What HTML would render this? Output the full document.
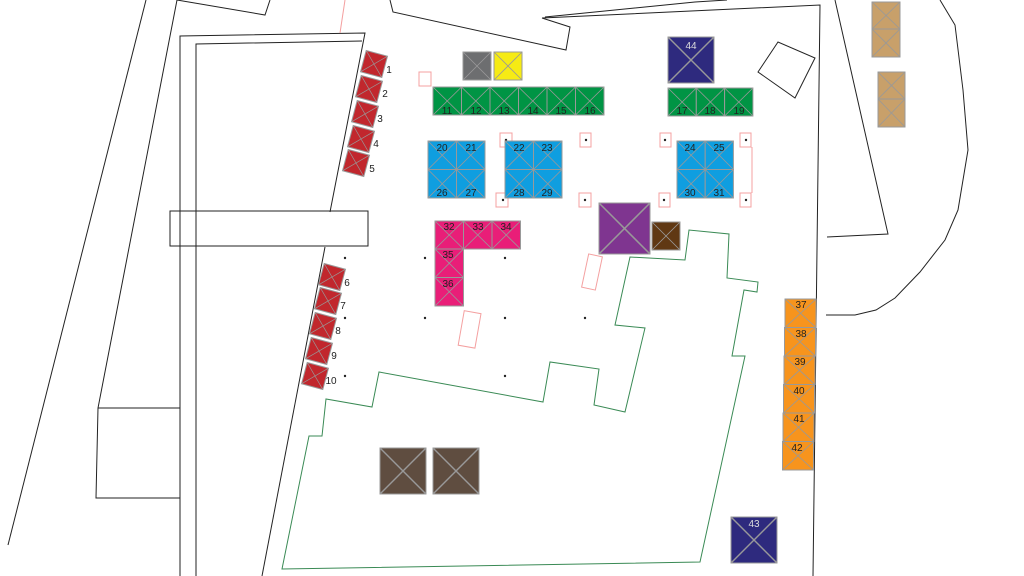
<!DOCTYPE html>
<html><head><style>body{margin:0;background:#fff}svg{display:block}text{font-family:"Liberation Sans",sans-serif;font-size:10px;fill:#222;text-anchor:middle}</style></head><body>
<svg width="1024" height="576" viewBox="0 0 1024 576" xmlns="http://www.w3.org/2000/svg">
<defs>
<g id="x"><line x1="0" y1="0" x2="1" y2="1" stroke="#999" stroke-width="0.03"/><line x1="1" y1="0" x2="0" y2="1" stroke="#999" stroke-width="0.03"/></g>
</defs>
<g fill="none" stroke="#222" stroke-width="1">
<line x1="146" y1="0" x2="8" y2="545"/>
<polyline points="177,0 98,408 96,498 180,498"/>
<line x1="98" y1="408" x2="180" y2="408"/>
<polyline points="180,576 180,36 365,33 330,212"/>
<polyline points="196,576 196,44 362,41"/>
<rect x="170" y="211" width="198" height="35"/>
<line x1="325" y1="247" x2="262" y2="576"/>
<polyline points="177,0 265,15 270,0"/>
<polyline points="390,0 393,12 566,50 570,27 542,18"/>
<polyline points="542,18 820,5 813,576"/>
<polyline points="545,17 695,2 727,0"/>
<polyline points="835,0 888,234 827,237"/>
<polyline points="940,0 955,25 963,90 968,150 958,210 945,240 920,272 895,298 876,310 855,315 826,315"/>
<polygon points="758,72 778,42 815,58 795,98"/>
</g>
<line x1="345" y1="0" x2="340" y2="33" stroke="#f4a0a0"/>
<g stroke="#999" stroke-width="1">
<rect x="872" y="2" width="28" height="55" fill="#c8a06a"/><line x1="872" y1="29" x2="900" y2="29"/>
<rect x="878" y="72" width="27" height="55" fill="#c8a06a"/><line x1="878" y1="99" x2="905" y2="99"/>
</g>
<polygon fill="none" stroke="#3a8a55" stroke-width="1" points="282,569 309,436 322,436 326,399 372,407 379,372 543,402 550,362 599,369 594,405 625,412 645,328 615,325 630,257 685,260 689,230 729,234 727,278 758,282 757,292 744,290 732,356 745,356 700,562"/>
<g fill="none" stroke="#f4a0a0" stroke-width="1">
<rect x="419" y="72" width="12" height="14"/>
<rect x="500" y="133" width="12" height="14"/><rect x="580" y="133" width="11" height="14"/><rect x="660" y="133" width="11" height="14"/><rect x="740" y="133" width="11" height="14"/>
<rect x="496" y="193" width="12" height="14"/><rect x="579" y="193" width="12" height="14"/><rect x="659" y="193" width="11" height="14"/><rect x="740" y="193" width="11" height="14"/>
<line x1="752" y1="147" x2="752" y2="193"/>
<rect x="585" y="255" width="14" height="34" transform="rotate(12 592 272)"/>
<rect x="461" y="312" width="17" height="35" transform="rotate(10 470 330)"/>
</g>
<g fill="#222">
<circle cx="506" cy="140" r="1.2"/><circle cx="586" cy="140" r="1.2"/><circle cx="665" cy="140" r="1.2"/><circle cx="746" cy="140" r="1.2"/>
<circle cx="503" cy="200" r="1.2"/><circle cx="585" cy="200" r="1.2"/><circle cx="664" cy="200" r="1.2"/><circle cx="746" cy="200" r="1.2"/>
<circle cx="345" cy="258" r="1.2"/><circle cx="425" cy="258" r="1.2"/><circle cx="505" cy="258" r="1.2"/>
<circle cx="345" cy="318" r="1.2"/><circle cx="425" cy="318" r="1.2"/><circle cx="505" cy="318" r="1.2"/><circle cx="585" cy="318" r="1.2"/>
<circle cx="345" cy="376" r="1.2"/><circle cx="505" cy="376" r="1.2"/>
</g>
<g stroke="#999" stroke-width="1">
<!-- red booths -->
<g fill="#c1272d">
<rect x="363" y="53" width="22" height="22" transform="rotate(15 374 64)"/>
<rect x="358" y="78" width="22" height="22" transform="rotate(15 369 89)"/>
<rect x="354" y="103" width="22" height="22" transform="rotate(15 365 114)"/>
<rect x="350" y="128" width="22" height="22" transform="rotate(15 361 139)"/>
<rect x="345" y="152" width="22" height="22" transform="rotate(15 356 163)"/>
<rect x="321" y="266" width="22" height="22" transform="rotate(15 332 277)"/>
<rect x="317" y="290" width="22" height="22" transform="rotate(15 328 301)"/>
<rect x="312" y="315" width="22" height="22" transform="rotate(15 323 326)"/>
<rect x="308" y="340" width="22" height="22" transform="rotate(15 319 351)"/>
<rect x="304" y="365" width="22" height="22" transform="rotate(15 315 376)"/>
</g>
<rect x="463" y="52" width="28" height="28" fill="#6d6e70"/>
<rect x="494" y="52" width="28" height="28" fill="#f6eb14"/>
<g fill="#009444">
<rect x="433" y="87" width="28.5" height="28"/><rect x="461.5" y="87" width="28.5" height="28"/><rect x="490" y="87" width="28.5" height="28"/><rect x="518.5" y="87" width="28.5" height="28"/><rect x="547" y="87" width="28.5" height="28"/><rect x="575.5" y="87" width="28.5" height="28"/>
<rect x="668" y="88" width="28.3" height="28"/><rect x="696.3" y="88" width="28.3" height="28"/><rect x="724.6" y="88" width="28.3" height="28"/>
</g>
<g fill="#0f9ee0">
<rect x="428" y="141" width="28.5" height="28.5"/><rect x="456.5" y="141" width="28.5" height="28.5"/><rect x="428" y="169.5" width="28.5" height="28.5"/><rect x="456.5" y="169.5" width="28.5" height="28.5"/>
<rect x="505" y="141" width="28.5" height="28.5"/><rect x="533.5" y="141" width="28.5" height="28.5"/><rect x="505" y="169.5" width="28.5" height="28.5"/><rect x="533.5" y="169.5" width="28.5" height="28.5"/>
<rect x="677" y="141" width="28.2" height="28.5"/><rect x="705.2" y="141" width="28.2" height="28.5"/><rect x="677" y="169.5" width="28.2" height="28.5"/><rect x="705.2" y="169.5" width="28.2" height="28.5"/>
</g>
<g fill="#e91e78">
<rect x="435" y="221" width="28.5" height="28"/><rect x="463.5" y="221" width="28.5" height="28"/><rect x="492" y="221" width="28.5" height="28"/>
<rect x="435" y="249" width="28.5" height="28.5"/><rect x="435" y="277.5" width="28.5" height="28.5"/>
</g>
<rect x="599" y="203" width="51" height="51" fill="#7f3590"/>
<rect x="652" y="222" width="28" height="28" fill="#603813"/>
<rect x="380" y="448" width="46" height="46" fill="#5f4d40"/>
<rect x="433" y="448" width="46" height="46" fill="#5f4d40"/>
<g fill="#f7941d">
<rect x="785" y="299" width="31" height="28.5"/><rect x="784.5" y="327.5" width="31" height="28.5"/><rect x="784" y="356" width="31" height="28.5"/><rect x="783.5" y="384.5" width="31" height="28.5"/><rect x="783" y="413" width="31" height="28.5"/><rect x="782.5" y="441.5" width="31" height="28.5"/>
</g>
<rect x="668" y="37" width="46" height="46" fill="#2e2a7e"/>
<rect x="731" y="517" width="46" height="46" fill="#2e2a7e"/>
</g>
<!-- X marks -->
<g>
<use href="#x" transform="translate(463 52) scale(28)"/><use href="#x" transform="translate(494 52) scale(28)"/>
<use href="#x" transform="translate(433 87) scale(28.5 28)"/><use href="#x" transform="translate(461.5 87) scale(28.5 28)"/><use href="#x" transform="translate(490 87) scale(28.5 28)"/><use href="#x" transform="translate(518.5 87) scale(28.5 28)"/><use href="#x" transform="translate(547 87) scale(28.5 28)"/><use href="#x" transform="translate(575.5 87) scale(28.5 28)"/>
<use href="#x" transform="translate(668 88) scale(28.3 28)"/><use href="#x" transform="translate(696.3 88) scale(28.3 28)"/><use href="#x" transform="translate(724.6 88) scale(28.3 28)"/>
<use href="#x" transform="translate(428 141) scale(28.5)"/><use href="#x" transform="translate(456.5 141) scale(28.5)"/><use href="#x" transform="translate(428 169.5) scale(28.5)"/><use href="#x" transform="translate(456.5 169.5) scale(28.5)"/>
<use href="#x" transform="translate(505 141) scale(28.5)"/><use href="#x" transform="translate(533.5 141) scale(28.5)"/><use href="#x" transform="translate(505 169.5) scale(28.5)"/><use href="#x" transform="translate(533.5 169.5) scale(28.5)"/>
<use href="#x" transform="translate(677 141) scale(28.2 28.5)"/><use href="#x" transform="translate(705.2 141) scale(28.2 28.5)"/><use href="#x" transform="translate(677 169.5) scale(28.2 28.5)"/><use href="#x" transform="translate(705.2 169.5) scale(28.2 28.5)"/>
<use href="#x" transform="translate(435 221) scale(28.5 28)"/><use href="#x" transform="translate(463.5 221) scale(28.5 28)"/><use href="#x" transform="translate(492 221) scale(28.5 28)"/><use href="#x" transform="translate(435 249) scale(28.5)"/><use href="#x" transform="translate(435 277.5) scale(28.5)"/>
<use href="#x" transform="translate(599 203) scale(51)"/><use href="#x" transform="translate(652 222) scale(28)"/>
<use href="#x" transform="translate(380 448) scale(46)"/><use href="#x" transform="translate(433 448) scale(46)"/>
<use href="#x" transform="translate(668 37) scale(46)"/><use href="#x" transform="translate(731 517) scale(46)"/>
<use href="#x" transform="translate(785 299) scale(31 28.5)"/><use href="#x" transform="translate(784.5 327.5) scale(31 28.5)"/><use href="#x" transform="translate(784 356) scale(31 28.5)"/><use href="#x" transform="translate(783.5 384.5) scale(31 28.5)"/><use href="#x" transform="translate(783 413) scale(31 28.5)"/><use href="#x" transform="translate(782.5 441.5) scale(31 28.5)"/>
<use href="#x" transform="translate(872 2) scale(28 27)"/><use href="#x" transform="translate(872 29) scale(28 28)"/><use href="#x" transform="translate(878 72) scale(27)"/><use href="#x" transform="translate(878 99) scale(27 28)"/>
<use href="#x" transform="rotate(15 374 64) translate(363 53) scale(22)"/><use href="#x" transform="rotate(15 369 89) translate(358 78) scale(22)"/><use href="#x" transform="rotate(15 365 114) translate(354 103) scale(22)"/><use href="#x" transform="rotate(15 361 139) translate(350 128) scale(22)"/><use href="#x" transform="rotate(15 356 163) translate(345 152) scale(22)"/>
<use href="#x" transform="rotate(15 332 277) translate(321 266) scale(22)"/><use href="#x" transform="rotate(15 328 301) translate(317 290) scale(22)"/><use href="#x" transform="rotate(15 323 326) translate(312 315) scale(22)"/><use href="#x" transform="rotate(15 319 351) translate(308 340) scale(22)"/><use href="#x" transform="rotate(15 315 376) translate(304 365) scale(22)"/>
</g>
<g>
<text x="389" y="73">1</text><text x="385" y="97">2</text><text x="380" y="122">3</text><text x="376" y="147">4</text><text x="372" y="172">5</text>
<text x="347" y="286">6</text><text x="343" y="309">7</text><text x="338" y="334">8</text><text x="334" y="359">9</text><text x="331" y="384">10</text>
<text x="447" y="114">11</text><text x="476" y="114">12</text><text x="504" y="114">13</text><text x="533" y="114">14</text><text x="561" y="114">15</text><text x="590" y="114">16</text>
<text x="682" y="114">17</text><text x="710" y="114">18</text><text x="739" y="114">19</text>
<text x="442" y="151">20</text><text x="471" y="151">21</text><text x="519" y="151">22</text><text x="547" y="151">23</text><text x="690" y="151">24</text><text x="719" y="151">25</text>
<text x="442" y="196">26</text><text x="471" y="196">27</text><text x="519" y="196">28</text><text x="547" y="196">29</text><text x="690" y="196">30</text><text x="719" y="196">31</text>
<text x="449" y="230">32</text><text x="478" y="230">33</text><text x="506" y="230">34</text><text x="448" y="258">35</text><text x="448" y="287">36</text>
<text x="801" y="308">37</text><text x="801" y="337">38</text><text x="800" y="365">39</text><text x="799" y="394">40</text><text x="799" y="422">41</text><text x="797" y="451">42</text>
<text x="691" y="49" style="fill:#ddd">44</text><text x="754" y="527" style="fill:#ddd">43</text>
</g>
</svg>
</body></html>
